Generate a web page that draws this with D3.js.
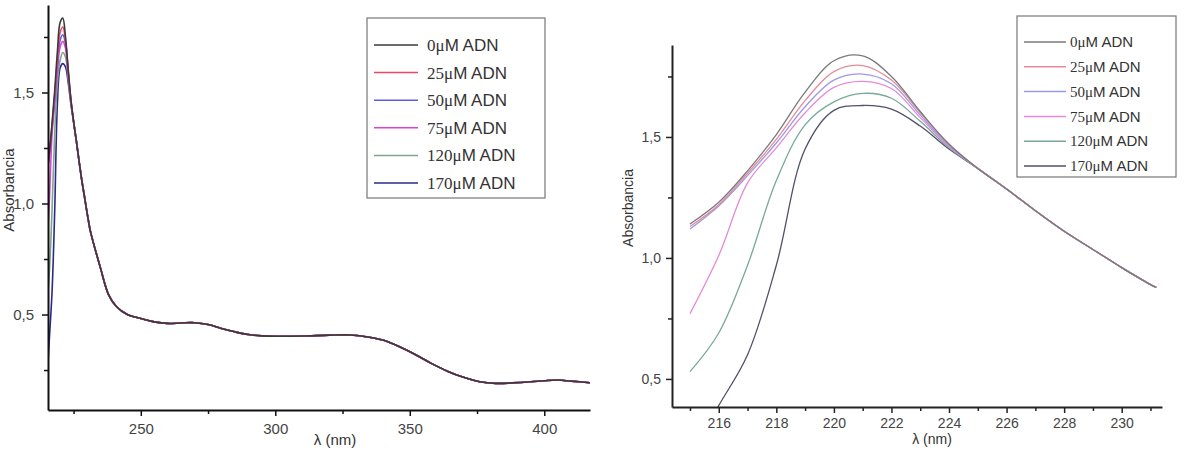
<!DOCTYPE html>
<html>
<head>
<meta charset="utf-8">
<script src="https://cdn.jsdelivr.net/npm/d3@7"></script>
<style>
  body { margin: 0; background: #fff; }
  svg { display: block; font-family: "Liberation Sans", Arial, sans-serif; }
  .tick text { fill: #444; }
</style>
</head>
<body>
<svg id="chart" width="1188" height="450"></svg>
<script>
// series names (concentration of ADN)
var seriesNames = ["0", "25", "50", "75", "120", "170"];

// peak region, one value per nm, where the series differ
var lambdaPeak = [215, 216, 217, 218, 219, 220, 221, 222, 223, 224];
var abs0   = [1.14, 1.23, 1.36, 1.51, 1.685, 1.815, 1.835, 1.75, 1.605, 1.47];
var abs25  = [1.13, 1.22, 1.35, 1.49, 1.65, 1.77, 1.795, 1.735, 1.60, 1.47];
var abs50  = [1.12, 1.215, 1.34, 1.475, 1.625, 1.735, 1.76, 1.72, 1.59, 1.465];
var abs75  = [0.77, 1.01, 1.31, 1.455, 1.60, 1.705, 1.73, 1.70, 1.58, 1.46];
var abs120 = [0.53, 0.69, 0.97, 1.32, 1.55, 1.645, 1.68, 1.66, 1.565, 1.455];
var abs170 = [0.18, 0.39, 0.60, 0.97, 1.45, 1.61, 1.63, 1.615, 1.545, 1.45];

// after ~225 nm all spectra overlap
var lambdaTail = [225, 226, 227, 228, 229, 230, 231, 231.2, 235, 238, 241, 245, 250, 255, 260, 265, 270, 275, 280,
  285, 290, 295, 300, 310, 320, 328, 335, 340, 346, 352, 358, 364, 370, 376, 382, 388, 395, 400, 405, 410, 417];
var absTail = [1.37, 1.285, 1.195, 1.11, 1.035, 0.96, 0.89, 0.878, 0.71, 0.59, 0.535, 0.50, 0.482, 0.467, 0.46, 0.462, 0.463, 0.455, 0.437,
  0.422, 0.41, 0.404, 0.402, 0.403, 0.407, 0.408, 0.398, 0.385, 0.356, 0.32, 0.28, 0.245, 0.217, 0.197, 0.19, 0.192, 0.197, 0.202, 0.205, 0.2, 0.193];

var leftXMajor = [250, 300, 350, 400];
var leftXMinor = [225, 275, 325, 375];
var leftYMajor = [0.5, 1.0, 1.5];
var leftYMinor = [0.25, 0.75, 1.25, 1.75];
var rightXMajor = [216, 218, 220, 222, 224, 226, 228, 230];
var rightXMinor = [215, 217, 219, 221, 223, 225, 227, 229, 231];
var rightYMajor = [0.5, 1.0, 1.5];
var rightYMinor = [0.75, 1.25, 1.75];

var leftColors  = ["#3a3a3a", "#f0455f", "#5e5ee0", "#e040e0", "#7fa58a", "#2a2a8a"];
var rightColors = ["#7a7a7a", "#e58a98", "#9a9ae8", "#e58ad8", "#78a898", "#505068"];

var peakSets = [abs0, abs25, abs50, abs75, abs120, abs170];
var spectra = peakSets.map(function(vals) {
  var pts = lambdaPeak.map(function(l, i) { return [l, vals[i]]; });
  return pts.concat(lambdaTail.map(function(l, i) { return [l, absTail[i]]; }));
});

var comma = function(v) { return d3.format(".1f")(v).replace(".", ","); };

var svg = d3.select("#chart");

function panel(opt) {
  var x = d3.scaleLinear().domain(opt.xDomain).range(opt.xRange);
  var y = d3.scaleLinear().domain(opt.yDomain).range(opt.yRange);
  var g = svg.append("g");

  g.append("clipPath").attr("id", opt.id + "clip")
    .append("rect")
      .attr("x", opt.xRange[0]).attr("y", opt.yRange[1])
      .attr("width", opt.xRange[1] - opt.xRange[0])
      .attr("height", opt.yRange[0] - opt.yRange[1]);

  var line = d3.line()
    .curve(d3.curveCatmullRom.alpha(0.5))
    .x(function(d) { return x(d[0]); })
    .y(function(d) { return y(d[1]); });

  // highest concentration drawn first, 0uM on top
  var order = [5, 4, 3, 2, 1, 0];
  g.append("g").attr("clip-path", "url(#" + opt.id + "clip)")
    .selectAll("path")
    .data(order)
  .enter().append("path")
    .attr("fill", "none")
    .attr("stroke", function(i) { return opt.colors[i]; })
    .attr("stroke-width", opt.lineWidth)
    .attr("d", function(i) {
      return line(spectra[i].filter(function(p) { return p[0] <= opt.xDomain[1] + 0.5; }));
    });

  // axes
  var xa = g.append("g").attr("transform", "translate(0," + opt.yRange[0] + ")")
    .call(d3.axisBottom(x).tickValues(opt.xMajor).tickSize(opt.tick).tickSizeOuter(0).tickPadding(opt.xPad));
  var xm = g.append("g").attr("transform", "translate(0," + opt.yRange[0] + ")")
    .call(d3.axisBottom(x).tickValues(opt.xMinor).tickFormat("").tickSize(opt.minorTick));
  var ya = g.append("g").attr("transform", "translate(" + opt.xRange[0] + ",0)")
    .call(d3.axisLeft(y).tickValues(opt.yMajor).tickFormat(comma).tickSize(opt.tick).tickSizeOuter(0).tickPadding(opt.yPad));
  var ym = g.append("g").attr("transform", "translate(" + opt.xRange[0] + ",0)")
    .call(d3.axisLeft(y).tickValues(opt.yMinor).tickFormat("").tickSize(opt.minorTick));

  xm.select(".domain").remove();
  ym.select(".domain").remove();
  [xa, ya].forEach(function(a) {
    a.select(".domain").attr("stroke", opt.axisColor).attr("stroke-width", 2);
    a.selectAll("text").attr("font-size", opt.tickFont);
  });
  [xa, xm, ya, ym].forEach(function(a) {
    a.selectAll(".tick line").attr("stroke", opt.axisColor).attr("stroke-width", 1.5);
  });

  g.append("text")
    .attr("x", opt.xTitle[0]).attr("y", opt.xTitle[1])
    .attr("text-anchor", "middle").attr("font-size", opt.titleFont).attr("fill", "#333")
    .text("λ (nm)");
  g.append("text")
    .attr("transform", "translate(" + opt.yTitle[0] + "," + opt.yTitle[1] + ") rotate(-90)")
    .attr("text-anchor", "middle").attr("font-size", opt.titleFont).attr("fill", "#333")
    .text("Absorbancia");

  // legend
  var lg = g.append("g");
  lg.append("rect")
    .attr("x", opt.legend.x).attr("y", opt.legend.y)
    .attr("width", opt.legend.w).attr("height", opt.legend.h)
    .attr("fill", "#fff").attr("stroke", "#777").attr("stroke-width", 1.2);
  var items = lg.selectAll(".item").data(seriesNames)
    .enter().append("g").attr("class", "item")
    .attr("transform", function(d, i) {
      return "translate(" + opt.legend.lineX + "," + (opt.legend.row0 + i * opt.legend.step) + ")";
    });
  items.append("line")
    .attr("x1", 0).attr("x2", opt.legend.lineLen)
    .attr("stroke", function(d, i) { return opt.colors[i]; })
    .attr("stroke-width", 1.5);
  var t = items.append("text")
    .attr("x", opt.legend.lineLen + opt.legend.gap).attr("dy", "0.35em")
    .attr("font-size", opt.legend.font).attr("fill", "#333");
  t.append("tspan").attr("font-family", "'Liberation Serif', 'Times New Roman', serif")
    .text(function(d) { return d + "μ"; });
  t.append("tspan").text("M ADN");
}

panel({
  id: "left",
  xDomain: [215.5, 417], xRange: [48, 590],
  yDomain: [0.07, 1.894], yRange: [410, 5],
  xMajor: leftXMajor, xMinor: leftXMinor, yMajor: leftYMajor, yMinor: leftYMinor,
  tick: 6, minorTick: 4, xPad: 7, yPad: 8,
  axisColor: "#111", tickFont: 15, titleFont: 15, lineWidth: 1.6,
  colors: leftColors,
  xTitle: [335, 445], yTitle: [14, 190],
  legend: { x: 367, y: 18, w: 178, h: 180, lineX: 374, lineLen: 44, gap: 9, row0: 45, step: 27.6, font: 17 }
});

panel({
  id: "right",
  xDomain: [214.375, 231.4], xRange: [672, 1162],
  yDomain: [0.384, 1.88], yRange: [407, 45],
  xMajor: rightXMajor, xMinor: rightXMinor, yMajor: rightYMajor, yMinor: rightYMinor,
  tick: 6, minorTick: 4, xPad: 5, yPad: 5,
  axisColor: "#222", tickFont: 14, titleFont: 14, lineWidth: 1.3,
  colors: rightColors,
  xTitle: [932, 444], yTitle: [633, 208],
  legend: { x: 1017, y: 16, w: 159, h: 161, lineX: 1024, lineLen: 42, gap: 4, row0: 42, step: 24.8, font: 15 }
});
</script>
</body>
</html>
